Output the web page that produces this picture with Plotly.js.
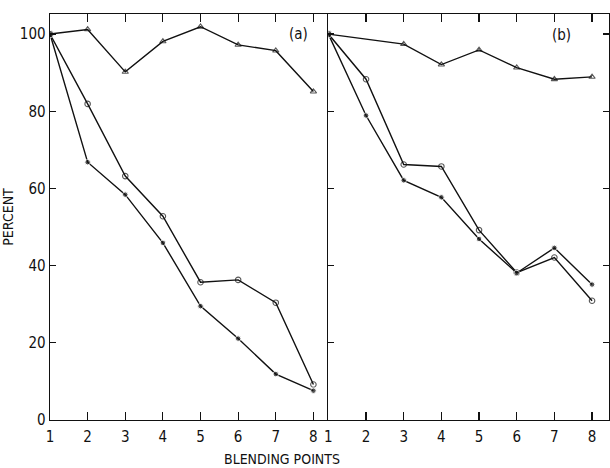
<!DOCTYPE html>
<html>
<head>
<meta charset="utf-8">
<script src="https://cdn.plot.ly/plotly-3.0.1.min.js"></script>
<style>html,body{margin:0;padding:0;background:#fff;}#chart{width:610px;height:468px;}</style>
</head>
<body>
<div id="chart"></div>
<script>
// Blending points
const blendPoints = [1, 2, 3, 4, 5, 6, 7, 8];
// Panel (a)
const triangleA = [100, 101.2, 90.2, 98.1, 101.9, 97.2, 95.7, 85.1];
const openA = [100, 81.9, 63.2, 52.8, 35.7, 36.3, 30.4, 9.2];
const filledA = [100, 66.8, 58.4, 45.9, 29.5, 21.1, 11.9, 7.6];
// Panel (b)
const trianglePointsB = [1, 3, 4, 5, 6, 7, 8];
const triangleB = [100, 97.4, 92.1, 95.9, 91.3, 88.3, 88.9];
const openB = [100, 88.3, 66.2, 65.7, 49.2, 38.2, 42.1, 30.9];
const filledB = [100, 78.9, 62.1, 57.7, 46.9, 38.1, 44.6, 35.1];
const yTicks = [0, 20, 40, 60, 80, 100];
const panelLabels = ['(a)', '(b)'];

const FONT = 'Liberation Sans Narrow, DejaVu Sans Condensed, sans-serif';
const line = {color: '#111', width: 1.4};
function sizes(n, first, rest) { return Array.from({length: n}, (_, i) => i === 0 ? first : rest); }

function tri(x, y, xa, ya) {
  return {x: x, y: y, xaxis: xa, yaxis: ya, mode: 'lines+markers', line: line,
    marker: {symbol: 'triangle-up-open', size: sizes(y.length, 0, 5.5), color: '#111', line: {width: 1.1}},
    showlegend: false, hoverinfo: 'skip'};
}
function openC(x, y, xa, ya) {
  return {x: x, y: y, xaxis: xa, yaxis: ya, mode: 'lines+markers', line: line,
    marker: {symbol: 'circle-open', size: sizes(y.length, 0, 5.5), color: '#111', line: {width: 1.1}},
    showlegend: false, hoverinfo: 'skip'};
}
function filled(x, y, xa, ya) {
  return {x: x, y: y, xaxis: xa, yaxis: ya, mode: 'lines+markers', line: line,
    marker: {symbol: 'circle', size: sizes(y.length, 7.5, 5.5), color: '#111'},
    showlegend: false, hoverinfo: 'skip'};
}

const data = [
  tri(blendPoints, triangleA, 'x', 'y'),
  openC(blendPoints, openA, 'x', 'y'),
  filled(blendPoints, filledA, 'x', 'y'),
  tri(trianglePointsB, triangleB, 'x2', 'y2'),
  openC(blendPoints, openB, 'x2', 'y2'),
  filled(blendPoints, filledB, 'x2', 'y2')
];

const xCommon = {
  tickvals: blendPoints, ticktext: blendPoints.map(String),
  ticks: 'inside', ticklen: 8, tickwidth: 1.2, tickcolor: '#111',
  showline: true, linecolor: '#111', linewidth: 1.4, mirror: 'ticks',
  showgrid: false, zeroline: false, ticklabelstandoff: 3,
  tickfont: {family: FONT, size: 15, color: '#111'}
};
const yCommon = {
  range: [0, 105.2], tickvals: yTicks,
  ticks: 'inside', ticklen: 6, tickwidth: 1.2, tickcolor: '#111',
  showline: true, linecolor: '#111', linewidth: 1.4,
  showgrid: false, zeroline: false,
  tickfont: {family: FONT, size: 15, color: '#111'}
};

const layout = {
  width: 610, height: 468,
  margin: {l: 50, r: 1, t: 14, b: 48},
  paper_bgcolor: '#fff', plot_bgcolor: '#fff',
  font: {family: FONT, color: '#111'},
  xaxis: Object.assign({}, xCommon, {domain: [0, 0.498], range: [1, 8.398], anchor: 'y'}),
  xaxis2: Object.assign({}, xCommon, {domain: [0.498, 1], range: [1, 8.45], anchor: 'y2'}),
  yaxis: Object.assign({}, yCommon, {anchor: 'x', mirror: false,
    title: {text: 'PERCENT', font: {family: FONT, size: 14, color: '#111'}, standoff: 6}}),
  yaxis2: Object.assign({}, yCommon, {anchor: 'x2', matches: 'y', showticklabels: false, mirror: 'ticks'}),
  annotations: [
    {text: panelLabels[0], xref: 'paper', yref: 'paper', x: 0.445, y: 0.978, showarrow: false,
     font: {family: FONT, size: 15, color: '#111'}},
    {text: panelLabels[1], xref: 'paper', yref: 'paper', x: 0.935, y: 0.975, showarrow: false,
     font: {family: FONT, size: 15, color: '#111'}},
    {text: 'BLENDING POINTS',
     xref: 'paper', yref: 'paper', x: 0.415, y: 0, yshift: -29, yanchor: 'top',
     showarrow: false, font: {family: FONT, size: 14, color: '#111'}}
  ]
};

Plotly.newPlot('chart', data, layout, {displayModeBar: false, staticPlot: true});
</script>
</body>
</html>
